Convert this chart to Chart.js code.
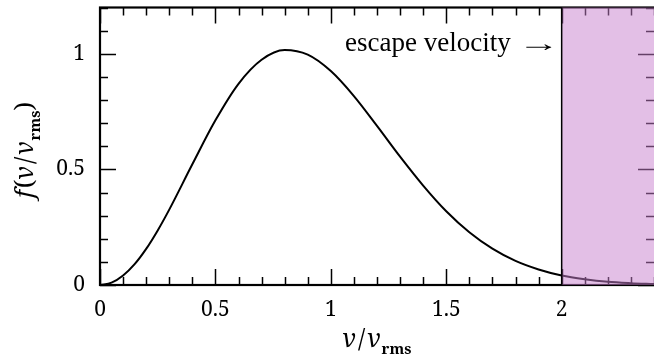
<!DOCTYPE html>
<html>
<head>
<meta charset="utf-8">
<script src="https://cdn.jsdelivr.net/npm/chart.js@4.4.1/dist/chart.umd.min.js"></script>
<style>
  html, body { margin: 0; padding: 0; background: #fff; }
  #wrap { width: 654px; height: 356px; }
</style>
</head>
<body>
<div id="wrap"><canvas id="chart"></canvas></div>
<script>
// v / v_rms
const speeds = [0, 0.05, 0.1, 0.15, 0.2, 0.25, 0.3, 0.4, 0.5, 0.6, 0.7, 0.8, 0.9, 1.0, 1.1, 1.2,
  1.3, 1.4, 1.5, 1.6, 1.7, 1.8, 1.9, 2.0, 2.1, 2.2, 2.3, 2.4];
// f(v / v_rms)
const density = [0, 0.010, 0.041, 0.090, 0.156, 0.236, 0.326, 0.522, 0.712, 0.870, 0.974, 1.016, 0.996,
  0.925, 0.817, 0.688, 0.555, 0.430, 0.319, 0.228, 0.157, 0.104, 0.067,
  0.041, 0.025, 0.014, 0.008, 0.004];
const xTicks = [0, 0.5, 1, 1.5, 2];
const yTicks = [0, 0.5, 1];
const escapeSpeed = 2;
const escapeLabel = 'escape velocity';

const serif = '"Noto Serif", serif';

// frame, inward ticks, shaded escape region, labels
const decor = {
  id: 'decor',
  afterDatasetsDraw(chart) {
    let ctx = chart.ctx;
    let area = chart.chartArea;
    let xs = chart.scales.x;
    let ys = chart.scales.y;
    ctx.save();
    ctx.strokeStyle = '#000';

    // ticks
    ctx.lineWidth = 1.5;
    for (let i = 0; i <= 24; i++) {
      let px = Math.round(xs.getPixelForValue(i / 10)) + 0.5;
      let len = i % 5 == 0 ? 16 : 8;
      ctx.beginPath();
      ctx.moveTo(px, area.bottom); ctx.lineTo(px, area.bottom - len);
      ctx.moveTo(px, area.top); ctx.lineTo(px, area.top + len);
      ctx.stroke();
    }
    for (let i = 0; i <= 12; i++) {
      let py = Math.round(ys.getPixelForValue(i / 10)) + 0.5;
      let len = i % 5 == 0 ? 16 : 8;
      ctx.beginPath();
      ctx.moveTo(area.left, py); ctx.lineTo(area.left + len, py);
      ctx.moveTo(area.right, py); ctx.lineTo(area.right - len, py);
      ctx.stroke();
    }

    // frame
    ctx.lineWidth = 2.2;
    ctx.strokeRect(area.left, area.top, area.right - area.left + 4, area.bottom - area.top);

    // escape region
    let ex = xs.getPixelForValue(escapeSpeed);
    ctx.fillStyle = 'rgba(200, 128, 205, 0.5)';
    ctx.fillRect(ex, area.top, area.right - ex, area.bottom - area.top);
    ctx.lineWidth = 1.5;
    ctx.beginPath();
    ctx.moveTo(ex, area.top); ctx.lineTo(ex, area.bottom);
    ctx.stroke();

    // annotation
    ctx.fillStyle = '#000';
    ctx.font = '27px "Liberation Serif", serif';
    ctx.textAlign = 'right';
    ctx.textBaseline = 'alphabetic';
    ctx.fillText(escapeLabel, ex - 51, 51);
    ctx.save();
    ctx.translate(ex - 44, 51);
    ctx.scale(1.75, 1);
    ctx.textAlign = 'left';
    ctx.font = '24px "Liberation Serif", serif';
    ctx.fillText('\u2192', 0, 0);
    ctx.restore();

    // titles with subscript
    let ratioParts = () => [
      { t: 'v', f: 'italic 25px ' + serif, dy: 0, gap: 2 },
      { t: '/', f: '25px ' + serif, dy: 0, gap: 2 },
      { t: 'v', f: 'italic 25px ' + serif, dy: 0, gap: 1 },
      { t: 'rms', f: 'bold 15px ' + serif, dy: 7 }
    ];
    let drawParts = (parts, x0, y0) => {
      let x = x0;
      ctx.textAlign = 'left';
      for (let p of parts) {
        ctx.font = p.f;
        ctx.fillText(p.t, x, y0 + p.dy);
        x += ctx.measureText(p.t).width + (p.gap || 0);
      }
    };
    let widthOf = parts => {
      let w = 0;
      for (let p of parts) { ctx.font = p.f; w += ctx.measureText(p.t).width + (p.gap || 0); }
      return w;
    };

    let xParts = ratioParts();
    let cx = (area.left + area.right) / 2;
    drawParts(xParts, cx - widthOf(xParts) / 2, 347);

    let yParts = [{ t: 'f', f: 'italic 25px ' + serif, dy: 0, gap: 2 },
      { t: '(', f: '25px ' + serif, dy: 0 }].concat(ratioParts()).concat([
      { t: ')', f: '25px ' + serif, dy: 0 }]);
    ctx.save();
    ctx.translate(33, 150);
    ctx.rotate(-Math.PI / 2);
    drawParts(yParts, -widthOf(yParts) / 2, 0);
    ctx.restore();

    ctx.restore();
  }
};

new Chart(document.getElementById('chart'), {
  type: 'line',
  data: {
    datasets: [{
      data: speeds.map((s, i) => ({ x: s, y: density[i] })),
      borderColor: '#000',
      borderWidth: 2,
      pointRadius: 0,
      cubicInterpolationMode: 'monotone',
      fill: false
    }]
  },
  options: {
    responsive: true,
    maintainAspectRatio: false,
    animation: false,
    layout: { padding: { top: 7.5, right: 0, left: 0, bottom: 0 } },
    plugins: { legend: { display: false }, tooltip: { enabled: false } },
    scales: {
      x: {
        type: 'linear',
        min: 0,
        max: 2.4,
        grid: { display: false, drawTicks: false },
        border: { display: false },
        afterFit: scale => {
          scale.height = 71;
          scale.paddingLeft = 0; scale.paddingRight = 0;
        },
        afterBuildTicks: scale => { scale.ticks = xTicks.map(v => ({ value: v })); },
        ticks: {
          color: '#000',
          font: { family: serif, size: 21 },
          padding: 12,
          maxRotation: 0,
          callback: v => String(v)
        }
      },
      y: {
        type: 'linear',
        min: 0,
        max: 1.2,
        grid: { display: false, drawTicks: false },
        border: { display: false },
        afterFit: scale => {
          scale.width = 100;
          scale.paddingTop = 0; scale.paddingBottom = 0;
        },
        afterBuildTicks: scale => { scale.ticks = yTicks.map(v => ({ value: v })); },
        ticks: {
          color: '#000',
          font: { family: serif, size: 21 },
          padding: 15,
          callback: v => String(v)
        }
      }
    }
  },
  plugins: [decor]
});
</script>
</body>
</html>
